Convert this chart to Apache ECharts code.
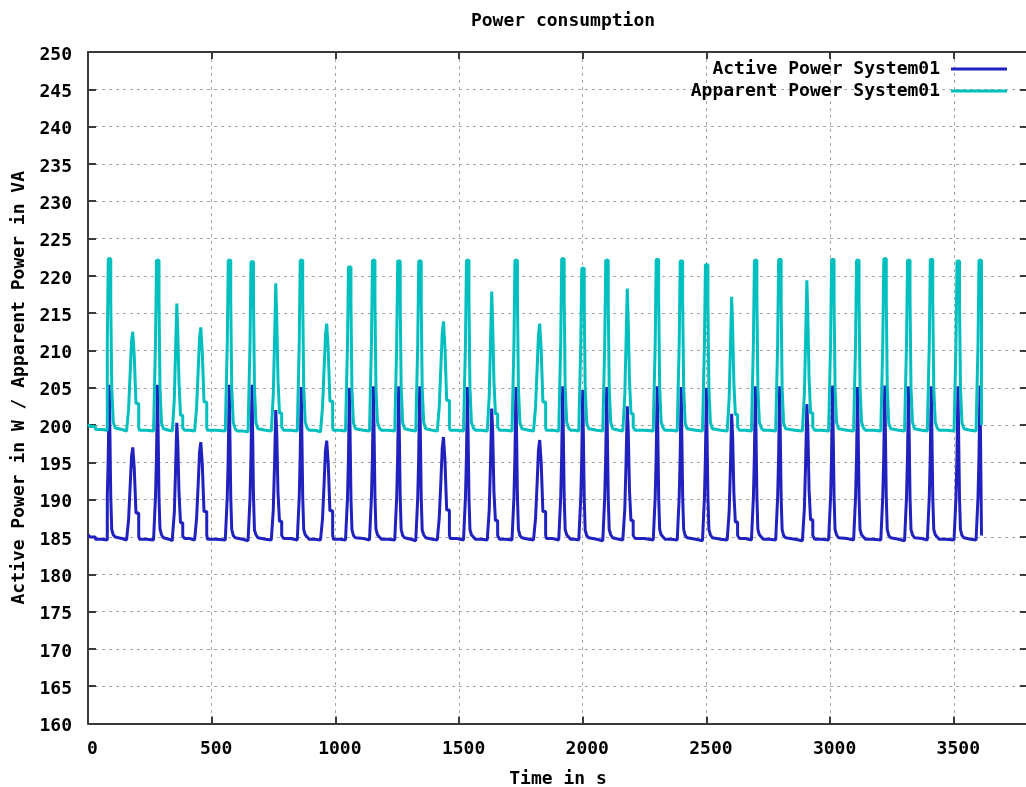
<!DOCTYPE html>
<html>
<head>
<meta charset="utf-8">
<title>Power consumption</title>
<script src="https://cdn.jsdelivr.net/npm/echarts@6/dist/echarts.min.js"></script>
<style>
  html, body { margin: 0; padding: 0; background: #fff; }
  #chart { width: 1026px; height: 787px; }
</style>
</head>
<body>
<div id="chart"></div>
<script>
// Sample times in seconds (one line per load cycle)
const seconds = [
  0, 8, 30, 56, 78, 82, 86, 92, 96, 102, 110,
  118, 137, 156, 164, 171, 176, 181, 187, 194, 205,
  208, 237, 265, 273, 277, 281, 287, 291, 297, 305,
  313, 327, 341, 349, 354, 359, 363, 368, 374, 383,
  391, 411, 431, 439, 446, 451, 456, 462, 469, 480,
  483, 519, 555, 563, 567, 571, 577, 581, 587, 595,
  603, 625, 647, 655, 659, 663, 669, 673, 679, 687,
  695, 718, 741, 749, 754, 759, 763, 768, 774, 783,
  791, 819, 846, 854, 858, 862, 868, 872, 878, 886,
  894, 917, 940, 948, 955, 960, 965, 971, 978, 989,
  992, 1017, 1041, 1049, 1053, 1057, 1063, 1067, 1073, 1081,
  1089, 1114, 1138, 1146, 1150, 1154, 1160, 1164, 1170, 1178,
  1186, 1213, 1240, 1248, 1252, 1256, 1262, 1266, 1272, 1280,
  1288, 1306, 1325, 1333, 1337, 1341, 1347, 1351, 1357, 1365,
  1373, 1393, 1412, 1420, 1427, 1432, 1437, 1443, 1450, 1461,
  1464, 1491, 1518, 1526, 1530, 1534, 1540, 1544, 1550, 1558,
  1566, 1590, 1614, 1622, 1627, 1632, 1636, 1641, 1647, 1656,
  1664, 1689, 1714, 1722, 1726, 1730, 1736, 1740, 1746, 1754,
  1762, 1782, 1801, 1809, 1816, 1821, 1826, 1832, 1839, 1850,
  1853, 1878, 1903, 1911, 1915, 1919, 1925, 1929, 1935, 1943,
  1951, 1968, 1984, 1992, 1996, 2000, 2006, 2010, 2016, 2024,
  2032, 2057, 2081, 2089, 2093, 2097, 2103, 2107, 2113, 2121,
  2129, 2146, 2162, 2170, 2175, 2180, 2184, 2189, 2195, 2204,
  2212, 2249, 2285, 2293, 2297, 2301, 2307, 2311, 2317, 2325,
  2333, 2358, 2382, 2390, 2394, 2398, 2404, 2408, 2414, 2422,
  2430, 2457, 2484, 2492, 2496, 2500, 2506, 2510, 2516, 2524,
  2532, 2558, 2584, 2592, 2597, 2602, 2606, 2611, 2617, 2626,
  2634, 2658, 2682, 2690, 2694, 2698, 2704, 2708, 2714, 2722,
  2730, 2755, 2780, 2788, 2792, 2796, 2802, 2806, 2812, 2820,
  2828, 2858, 2888, 2896, 2901, 2906, 2910, 2915, 2921, 2930,
  2938, 2966, 2994, 3002, 3006, 3010, 3016, 3020, 3026, 3034,
  3042, 3068, 3095, 3103, 3107, 3111, 3117, 3121, 3127, 3135,
  3143, 3174, 3205, 3213, 3217, 3221, 3227, 3231, 3237, 3245,
  3253, 3277, 3301, 3309, 3313, 3317, 3323, 3327, 3333, 3341,
  3349, 3371, 3393, 3401, 3405, 3409, 3415, 3419, 3425, 3433,
  3441, 3471, 3501, 3509, 3513, 3517, 3523, 3527, 3533, 3541,
  3549, 3568, 3590, 3598, 3602, 3606, 3612
];

// Active power in W
const activePower = [
  185.3, 185.0, 184.7, 184.6, 190.4, 196.0, 205.4, 190.4, 186.0, 185.3, 185.0,
  184.8, 184.6, 184.7, 187.3, 192.2, 195.8, 197.0, 194.2, 188.2, 185.2,
  184.7, 184.6, 184.8, 190.5, 196.1, 205.4, 190.3, 186.1, 185.3, 184.9,
  184.7, 184.5, 184.8, 188.3, 194.0, 200.3, 197.6, 190.8, 186.9, 185.1,
  184.8, 184.6, 184.7, 187.5, 192.5, 196.4, 197.7, 194.8, 188.4, 185.3,
  184.7, 184.6, 184.8, 190.4, 195.9, 205.4, 190.5, 186.0, 185.2, 184.9,
  184.7, 184.5, 184.7, 190.3, 196.0, 205.4, 190.4, 185.9, 185.3, 184.9,
  184.7, 184.6, 184.8, 188.6, 194.6, 202.0, 198.9, 191.0, 187.1, 185.2,
  184.8, 184.6, 184.7, 190.4, 196.1, 205.1, 190.4, 186.0, 185.3, 185.0,
  184.7, 184.6, 184.8, 187.4, 192.6, 196.6, 197.9, 195.0, 188.5, 185.3,
  184.7, 184.6, 184.7, 190.2, 195.8, 205.0, 190.3, 186.0, 185.2, 184.9,
  184.8, 184.6, 184.7, 190.5, 196.0, 205.2, 190.4, 186.1, 185.3, 185.0,
  184.7, 184.6, 184.8, 190.4, 196.1, 205.2, 190.5, 186.0, 185.2, 184.9,
  184.7, 184.5, 184.7, 190.3, 195.9, 205.2, 190.4, 185.9, 185.3, 184.9,
  184.7, 184.6, 184.8, 187.6, 192.8, 196.9, 198.4, 195.3, 188.6, 185.3,
  184.8, 184.6, 184.7, 190.4, 196.0, 205.1, 190.4, 186.0, 185.3, 185.0,
  184.7, 184.6, 184.8, 188.6, 194.7, 202.2, 199.0, 191.1, 187.2, 185.2,
  184.7, 184.6, 184.7, 190.4, 196.0, 205.1, 190.4, 186.0, 185.2, 184.9,
  184.7, 184.6, 184.8, 187.4, 192.5, 196.6, 198.0, 195.0, 188.4, 185.3,
  184.8, 184.6, 184.7, 190.4, 196.1, 205.2, 190.4, 186.0, 185.3, 185.0,
  184.7, 184.6, 184.8, 190.2, 195.7, 204.7, 190.3, 185.9, 185.2, 184.9,
  184.7, 184.5, 184.7, 190.4, 196.0, 205.1, 190.4, 186.0, 185.3, 184.9,
  184.7, 184.6, 184.8, 188.7, 194.8, 202.5, 199.2, 191.2, 187.2, 185.2,
  184.8, 184.6, 184.7, 190.4, 196.0, 205.2, 190.4, 186.0, 185.3, 185.0,
  184.7, 184.6, 184.8, 190.4, 196.0, 205.1, 190.4, 186.0, 185.2, 184.9,
  184.7, 184.5, 184.7, 190.3, 195.9, 205.0, 190.4, 186.0, 185.3, 184.9,
  184.7, 184.6, 184.8, 188.4, 194.3, 201.5, 198.4, 190.9, 187.0, 185.2,
  184.8, 184.6, 184.7, 190.4, 196.0, 205.2, 190.4, 186.0, 185.3, 185.0,
  184.7, 184.6, 184.8, 190.4, 196.0, 205.2, 190.4, 186.0, 185.2, 184.9,
  184.7, 184.5, 184.7, 188.8, 194.9, 202.8, 199.5, 191.3, 187.3, 185.2,
  184.7, 184.6, 184.7, 190.4, 196.0, 205.3, 190.4, 186.0, 185.3, 184.9,
  184.8, 184.6, 184.8, 190.4, 196.0, 205.1, 190.4, 186.0, 185.3, 185.0,
  184.7, 184.6, 184.7, 190.5, 196.1, 205.3, 190.4, 186.0, 185.2, 184.9,
  184.7, 184.5, 184.7, 190.4, 196.0, 205.2, 190.4, 186.0, 185.3, 184.9,
  184.8, 184.6, 184.8, 190.4, 196.0, 205.2, 190.4, 186.0, 185.3, 185.0,
  184.7, 184.6, 184.7, 190.4, 196.0, 205.2, 190.4, 186.0, 185.2, 184.9,
  184.7, 184.6, 184.8, 190.4, 196.0, 205.3, 185.2
];

// Apparent power in VA
const apparentPower = [
  200.1, 199.8, 199.4, 199.3, 211.0, 222.3, 222.3, 216.8, 205.0, 200.4, 199.6,
  199.4, 199.2, 199.3, 202.1, 207.4, 211.2, 212.5, 209.2, 202.9, 199.7,
  199.3, 199.2, 199.4, 211.2, 222.1, 222.1, 216.7, 205.1, 200.3, 199.5,
  199.3, 199.2, 199.4, 203.5, 210.0, 216.3, 212.4, 205.6, 201.3, 199.6,
  199.3, 199.2, 199.3, 202.3, 207.8, 211.7, 213.1, 209.7, 203.1, 199.7,
  199.3, 199.2, 199.4, 210.9, 222.1, 222.1, 216.9, 205.0, 200.4, 199.5,
  199.2, 199.1, 199.3, 211.0, 221.9, 221.9, 216.6, 204.9, 200.3, 199.5,
  199.3, 199.2, 199.4, 204.1, 211.2, 219.0, 214.3, 206.1, 201.6, 199.7,
  199.3, 199.2, 199.3, 211.1, 222.1, 222.1, 216.8, 205.1, 200.4, 199.6,
  199.3, 199.1, 199.3, 202.4, 208.0, 212.0, 213.6, 210.2, 203.2, 199.7,
  199.3, 199.2, 199.3, 210.8, 221.2, 221.2, 216.2, 204.8, 200.3, 199.5,
  199.3, 199.2, 199.3, 211.1, 222.1, 222.1, 216.8, 205.0, 200.4, 199.6,
  199.3, 199.2, 199.4, 211.0, 222.0, 222.0, 216.7, 205.1, 200.3, 199.5,
  199.3, 199.2, 199.3, 210.9, 222.0, 222.0, 216.8, 205.0, 200.4, 199.5,
  199.3, 199.2, 199.3, 202.5, 208.2, 212.3, 213.9, 210.4, 203.3, 199.7,
  199.3, 199.2, 199.3, 211.0, 222.1, 222.1, 216.8, 205.0, 200.4, 199.6,
  199.3, 199.2, 199.4, 203.9, 210.8, 217.9, 213.5, 205.9, 201.5, 199.7,
  199.3, 199.2, 199.3, 211.0, 222.1, 222.1, 216.8, 205.0, 200.3, 199.5,
  199.3, 199.2, 199.3, 202.3, 207.9, 212.0, 213.6, 210.1, 203.1, 199.7,
  199.3, 199.2, 199.3, 211.1, 222.3, 222.3, 216.8, 205.1, 200.4, 199.6,
  199.3, 199.2, 199.4, 210.7, 221.0, 221.0, 216.2, 204.8, 200.3, 199.5,
  199.3, 199.2, 199.3, 211.0, 222.1, 222.1, 216.8, 205.0, 200.4, 199.5,
  199.3, 199.2, 199.4, 204.0, 211.0, 218.3, 213.8, 206.0, 201.5, 199.7,
  199.3, 199.2, 199.3, 211.0, 222.2, 222.2, 216.8, 205.0, 200.4, 199.6,
  199.3, 199.2, 199.4, 211.0, 222.0, 222.0, 216.7, 205.0, 200.3, 199.5,
  199.3, 199.2, 199.3, 210.9, 221.5, 221.5, 216.5, 204.9, 200.4, 199.5,
  199.3, 199.2, 199.4, 203.6, 210.4, 217.2, 212.9, 205.7, 201.4, 199.7,
  199.3, 199.2, 199.3, 211.0, 222.1, 222.1, 216.8, 205.0, 200.4, 199.6,
  199.3, 199.2, 199.4, 211.0, 222.2, 222.2, 216.8, 205.0, 200.3, 199.5,
  199.3, 199.2, 199.3, 204.2, 211.4, 219.4, 214.6, 206.2, 201.6, 199.7,
  199.3, 199.2, 199.3, 211.0, 222.2, 222.2, 216.8, 205.0, 200.4, 199.5,
  199.3, 199.2, 199.4, 211.0, 222.1, 222.1, 216.8, 205.0, 200.4, 199.6,
  199.3, 199.2, 199.3, 211.1, 222.3, 222.3, 216.8, 205.1, 200.3, 199.5,
  199.3, 199.2, 199.3, 211.0, 222.1, 222.1, 216.8, 205.0, 200.4, 199.5,
  199.3, 199.2, 199.4, 211.0, 222.2, 222.2, 216.8, 205.0, 200.4, 199.6,
  199.3, 199.2, 199.3, 211.0, 222.0, 222.0, 216.7, 205.0, 200.3, 199.5,
  199.3, 199.2, 199.4, 211.0, 222.1, 222.1, 200.0
];

const seriesNames = ['Active Power System01', 'Apparent Power System01'];
const seriesColors = ['#2121bf', '#00bfbf'];

const FONT = 'DejaVu Sans Mono';
const textBase = { fontFamily: FONT, fontWeight: 'bold', fontSize: 18, color: '#000' };
const frameColor = '#3a3a3a';
const gridLine = { show: true, lineStyle: { color: '#a6a6a6', width: 1, type: [3, 4] } };

function pairs(values) {
  return seconds.map((t, i) => [t, values[i]]);
}

const chart = echarts.init(document.getElementById('chart'), null, { renderer: 'canvas' });

chart.setOption({
  animation: false,
  backgroundColor: '#fff',
  title: {
    text: 'Power consumption',
    left: 558,
    top: 7,
    textAlign: 'center',
    textStyle: Object.assign({}, textBase)
  },
  legend: {
    orient: 'vertical',
    right: 14,
    top: 55,
    align: 'right',
    icon: 'rect',
    itemWidth: 56,
    itemHeight: 3,
    itemGap: 4,
    selectedMode: false,
    textStyle: Object.assign({}, textBase, { padding: [0, 6, 0, 0] }),
    data: seriesNames
  },
  grid: {
    left: 88, right: -2, top: 52, bottom: 63.5,
    containLabel: false, outerBoundsMode: 'none'
  },
  xAxis: [
    {
      type: 'value', min: 0, max: 3800, interval: 500,
      name: 'Time in s', nameLocation: 'middle', nameGap: 47,
      nameTextStyle: Object.assign({}, textBase),
      axisLine: { show: true, onZero: false, lineStyle: { color: frameColor, width: 2 } },
      axisTick: { show: true, inside: true, length: 7, lineStyle: { color: frameColor, width: 2 } },
      axisLabel: Object.assign({}, textBase, {
        margin: 17, showMaxLabel: false, padding: [0, 0, 0, 9],
        formatter: (v) => String(v)
      }),
      splitLine: gridLine
    },
    {
      type: 'value', min: 0, max: 3800, interval: 500, position: 'top',
      axisLine: { show: true, onZero: false, lineStyle: { color: frameColor, width: 2 } },
      axisTick: { show: true, inside: true, length: 7, lineStyle: { color: frameColor, width: 2 } },
      axisLabel: { show: false },
      splitLine: { show: false }
    }
  ],
  yAxis: [
    {
      type: 'value', min: 160, max: 250, interval: 5,
      name: 'Active Power in W / Apparent Power in VA', nameLocation: 'middle', nameGap: 60,
      nameTextStyle: Object.assign({}, textBase),
      axisLine: { show: true, onZero: false, lineStyle: { color: frameColor, width: 2 } },
      axisTick: { show: true, inside: true, length: 8, lineStyle: { color: frameColor, width: 2 } },
      axisLabel: Object.assign({}, textBase, { margin: 16, verticalAlign: 'top', lineHeight: 6 }),
      splitLine: gridLine
    },
    {
      type: 'value', min: 160, max: 250, interval: 5, position: 'right',
      axisLine: { show: true, onZero: false, lineStyle: { color: frameColor, width: 2 } },
      axisTick: { show: true, inside: true, length: 8, lineStyle: { color: frameColor, width: 2 } },
      axisLabel: { show: false },
      splitLine: { show: false }
    }
  ],
  series: [
    {
      name: seriesNames[0], type: 'line', step: 'end', showSymbol: false,
      xAxisIndex: 0, yAxisIndex: 0,
      color: seriesColors[0],
      lineStyle: { width: 3, color: seriesColors[0] },
      data: pairs(activePower)
    },
    {
      name: seriesNames[1], type: 'line', step: 'end', showSymbol: false,
      xAxisIndex: 0, yAxisIndex: 0,
      color: seriesColors[1],
      lineStyle: { width: 3, color: seriesColors[1] },
      data: pairs(apparentPower)
    }
  ]
});
</script>
</body>
</html>
